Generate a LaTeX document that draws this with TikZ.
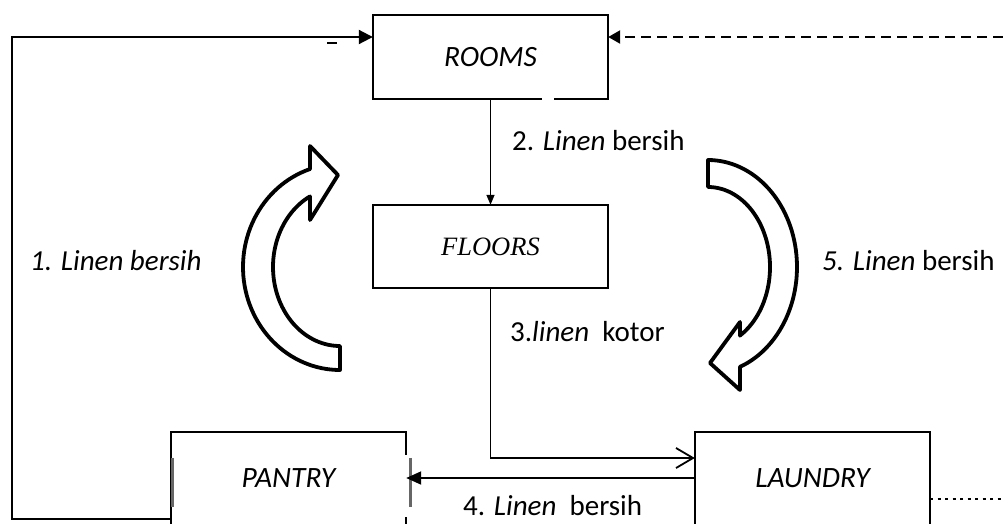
\documentclass[tikz,border=0pt]{standalone}
\usepackage{fontspec}
\setmainfont{Carlito}
\newfontfamily\serifface{Liberation Serif}
\usetikzlibrary{arrows.meta,calc}

\begin{document}
\begin{tikzpicture}[x=1pt,y=-1pt,
  box/.style={rectangle, minimum width=235pt, minimum height=84pt, inner sep=0pt,
    font=\fontsize{29.5}{35}\selectfont\itshape},
  boxline/.style={line width=1.8pt},
  flow/.style={line width=2pt},
  thinflow/.style={line width=1.4pt},
  dashflow/.style={line width=2.4pt, dash pattern=on 10pt off 6pt},
  dotline/.style={line width=1.2pt, dash pattern=on 3pt off 4.5pt},
  edgemark/.style={line width=3pt, draw=black!60},
  lbl/.style={font=\fontsize{29}{35}\selectfont, inner sep=0pt, anchor=west},
  bigarrow/.style={line width=3.8pt, line join=round, fill=white, draw=black},
]
\useasboundingbox (0,0) rectangle (1003,523);
\clip (0,0) rectangle (1003,523);

% boxes
\node[box] (rooms) at (490.5,57) {ROOMS};
\node[box, minimum height=83pt, font=\fontsize{26.5}{32}\selectfont\serifface\itshape]
  (floors) at (490.5,246.5) {FLOORS};
\node[box, minimum height=92pt] (pantry) at (288.5,478) {PANTRY};
\node[box, minimum height=92pt] (laundry) at (812.5,478) {LAUNDRY};

% box outlines
\draw[boxline] ($(rooms.south east)+(-54,0)$) -- (rooms.south east) -- (rooms.north east)
  -- (rooms.north west) -- (rooms.south west) -- ($(rooms.south east)+(-66,0)$);
\draw[boxline] (floors.south west) rectangle (floors.north east);
\draw[boxline] (pantry.south west) -- (pantry.north west) -- (pantry.north east) -- ++(0,23);
\draw[boxline] ($(pantry.south east)+(0,-7)$) -- (pantry.south east);
\draw[edgemark] ($(pantry.north west)+(1.5,26)$) -- ++(0,49);
\draw[edgemark] ($(pantry.north east)+(4,26)$) -- ++(0,49);
\draw[boxline] (laundry.south west) -- (laundry.north west) -- (laundry.north east) -- (laundry.south east);

% helper coordinates
\coordinate (fbtop) at (12,37);
\coordinate (fbbottom) at (12,519);
\coordinate (dashend) at (1003,37);
\coordinate (kotorrow) at (0,458);
\coordinate (dotend) at (1003,499);

% connectors
\draw[flow, -{Triangle[length=14pt,width=14pt]}]
  (pantry.west |- fbbottom) -- (fbbottom) -- (fbtop) -- (rooms.west |- fbtop);
\draw[line width=2.4pt] (327,43) -- (337,43);
\draw[dashflow, -{Triangle[length=12pt,width=13pt]}] (dashend) -- (rooms.east |- dashend);
\draw[thinflow, -{Triangle[length=10pt,width=8pt]}] (rooms.south) -- (floors.north);
\draw[boxline, -{Straight Barb[length=17pt,width=20pt]}] (floors.south) |- (laundry.west |- kotorrow);
\draw[flow, -{Triangle[length=15pt,width=13pt]}] (laundry.west) -- (pantry.east);
\draw[dotline] (laundry.east |- dotend) -- (dotend);

% labels
\node[lbl] (l1) at (30,261) {\itshape 1. Linen bersih};
\node[lbl] (l2) at (512,141) {2. \textit{Linen} bersih};
\node[lbl] (l3) at (510,332) {3.\textit{linen}\ \ kotor};
\node[lbl] (l4) at (463,506) {4. \textit{Linen}\ \ bersih};
\node[lbl] (l5) at (822,261) {\textit{5. Linen} bersih};

% curved cycle arrows
\draw[bigarrow] (340,346) -- (340,370)
  -- plot[domain=90:252, samples=60] ({340+97*cos(\x)},{267+103*sin(\x)})
  -- (310,146) -- (338,175) -- (310,220) -- (310,196.4)
  -- plot[domain=243.4:90, samples=60] ({340+67*cos(\x)},{267+79*sin(\x)}) -- cycle;
\draw[bigarrow] (708,187) -- (708,160)
  -- plot[domain=-90:69, samples=60] ({708+89*cos(\x)},{267+107*sin(\x)})
  -- (740,390) -- (710,363) -- (740,322) -- (740,335.6)
  -- plot[domain=59:-90, samples=60] ({708+62*cos(\x)},{267+80*sin(\x)}) -- cycle;
\end{tikzpicture}
\end{document}
